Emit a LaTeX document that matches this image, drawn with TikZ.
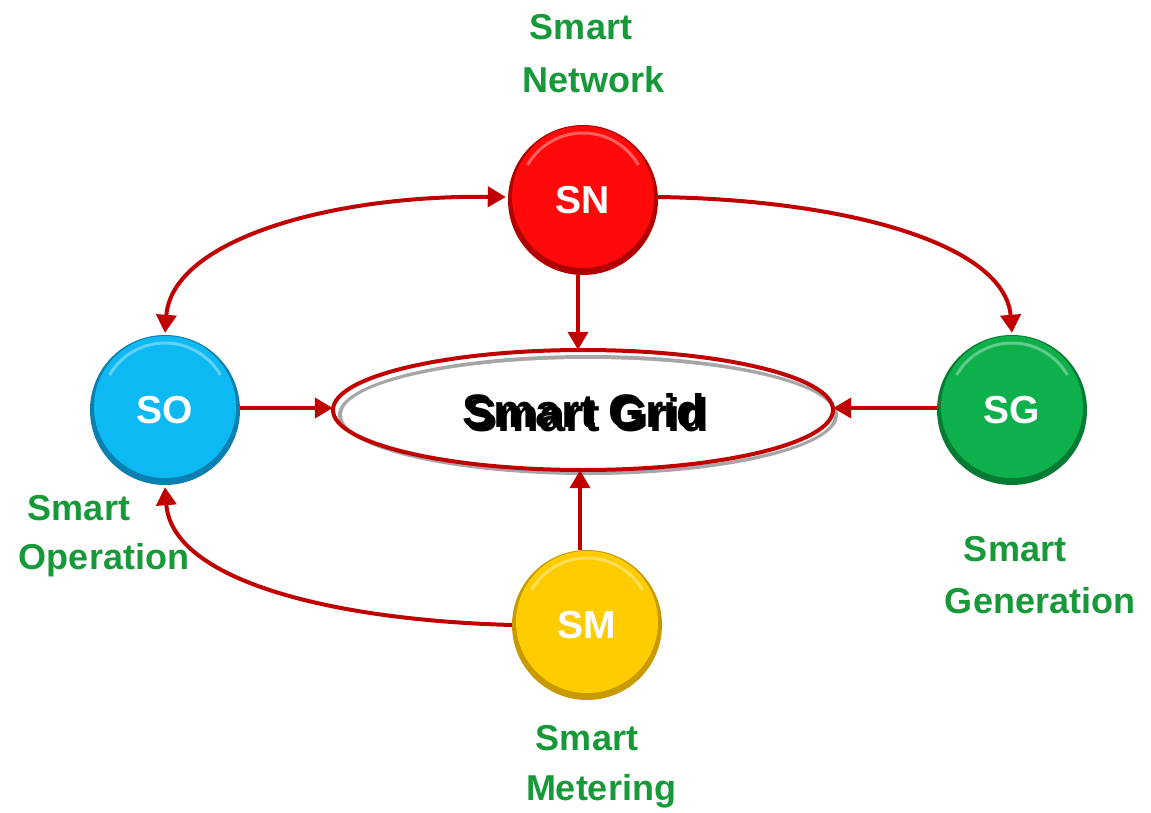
\documentclass[tikz,border=0pt]{standalone}
\usepackage{fontspec}
\setmainfont{Liberation Sans}
\usetikzlibrary{arrows.meta,shapes.geometric,calc}
\definecolor{arrowred}{HTML}{C00000}
\definecolor{lblgreen}{HTML}{17993A}
\definecolor{snc}{HTML}{FF0A0A}\definecolor{snd}{HTML}{B00000}
\definecolor{soc}{HTML}{0DB9F2}\definecolor{sod}{HTML}{0A7FB0}
\definecolor{sgc}{HTML}{0DB04B}\definecolor{sgd}{HTML}{077A33}
\definecolor{smc}{HTML}{FFCC00}\definecolor{smd}{HTML}{C89A00}
\tikzset{
  conn/.style={draw=arrowred, line width=4pt, -{Triangle[length=18pt,width=20pt]}},
  bconn/.style={draw=arrowred, line width=4pt, {Triangle[length=18pt,width=20pt]}-{Triangle[length=18pt,width=20pt]}},
  ballnode/.style={circle, minimum size=150pt, inner sep=0pt, text=white, font=\bfseries\fontsize{39}{40}\selectfont},
  lbl/.style={text=lblgreen, font=\bfseries\fontsize{36}{40}\selectfont, inner sep=0pt},
}
\newcommand{\myball}[3]{%
  \fill[#3] (#1) circle[radius=75pt];
  \fill[#2] ($(#1)+(0,-3)$) circle[radius=71pt];
  \draw[white, opacity=0.35, line width=3pt] ($(#1)+(0,-3)$) ++(150:64pt) arc[start angle=150, end angle=30, radius=64pt];
}
\newcommand{\shadowtext}[1]{\rlap{\hspace{4pt}\raisebox{-4pt}{#1}}#1}
\begin{document}
\begin{tikzpicture}[x=1pt,y=-1pt]
\useasboundingbox (0,0) rectangle (1151,813);
% balls
\myball{583,200}{snc}{snd}
\myball{165,410}{soc}{sod}
\myball{1012,410}{sgc}{sgd}
\myball{587,625}{smc}{smd}
\node[ballnode] (SN) at (583,200) {SN};
\node[ballnode] (SO) at (165,410) {SO};
\node[ballnode] (SG) at (1012,410) {SG};
\node[ballnode] (SM) at (587,625) {SM};
% ellipse
\fill[gray!70] (588,415) ellipse[x radius=250pt, y radius=60pt];
\fill[white] (588,415) ellipse[x radius=246pt, y radius=56pt];
\draw[arrowred, line width=4pt] (583,410) ellipse[x radius=250pt, y radius=60pt];
\node[ellipse, minimum width=500pt, minimum height=120pt, inner sep=0pt] (E) at (583,410) {};
\node[font=\bfseries\fontsize{47}{50}\selectfont, text=black] (SGT) at (584,413) {\shadowtext{Smart Grid}};
% connectors
\draw[bconn] ($(SN.west)+(-2,-3)$) .. controls (330,195) and (172,240) .. ($(SO.north)+(0,-2)$);
\draw[conn] ($(SN.east)+(0,-3)$) .. controls (850,200) and (1005,245) .. ($(SG.north)+(0,-2)$);
\draw[conn] (SM.west) .. controls (330,620) and (172,580) .. ($(SO.south)+(0,2)$);
\draw[conn] ($(SN.south)+(-5,0)$) -- ($(E.north)+(-5,0)$);
\draw[conn] ($(SM.north)+(-7,0)$) -- ($(E.south)+(-3,0)$);
\draw[conn] ($(SO.east)+(0,-2)$) -- ($(E.west)+(0,-2)$);
\draw[conn] ($(SG.west)+(0,-2)$) -- ($(E.east)+(0,-2)$);
% labels
\node[lbl] (l1) at (581,27) {Smart};
\node[lbl] (l2) at (594,80) {Network};
\node[lbl] (l3) at (79,508) {Smart};
\node[lbl] (l4) at (104,560) {Operation};
\node[lbl] (l5) at (1015,549) {Smart};
\node[lbl] (l6) at (1040,601) {Generation};
\node[lbl] (l7) at (587,738) {Smart};
\node[lbl] (l8) at (601,791) {Metering};
\end{tikzpicture}
\end{document}
